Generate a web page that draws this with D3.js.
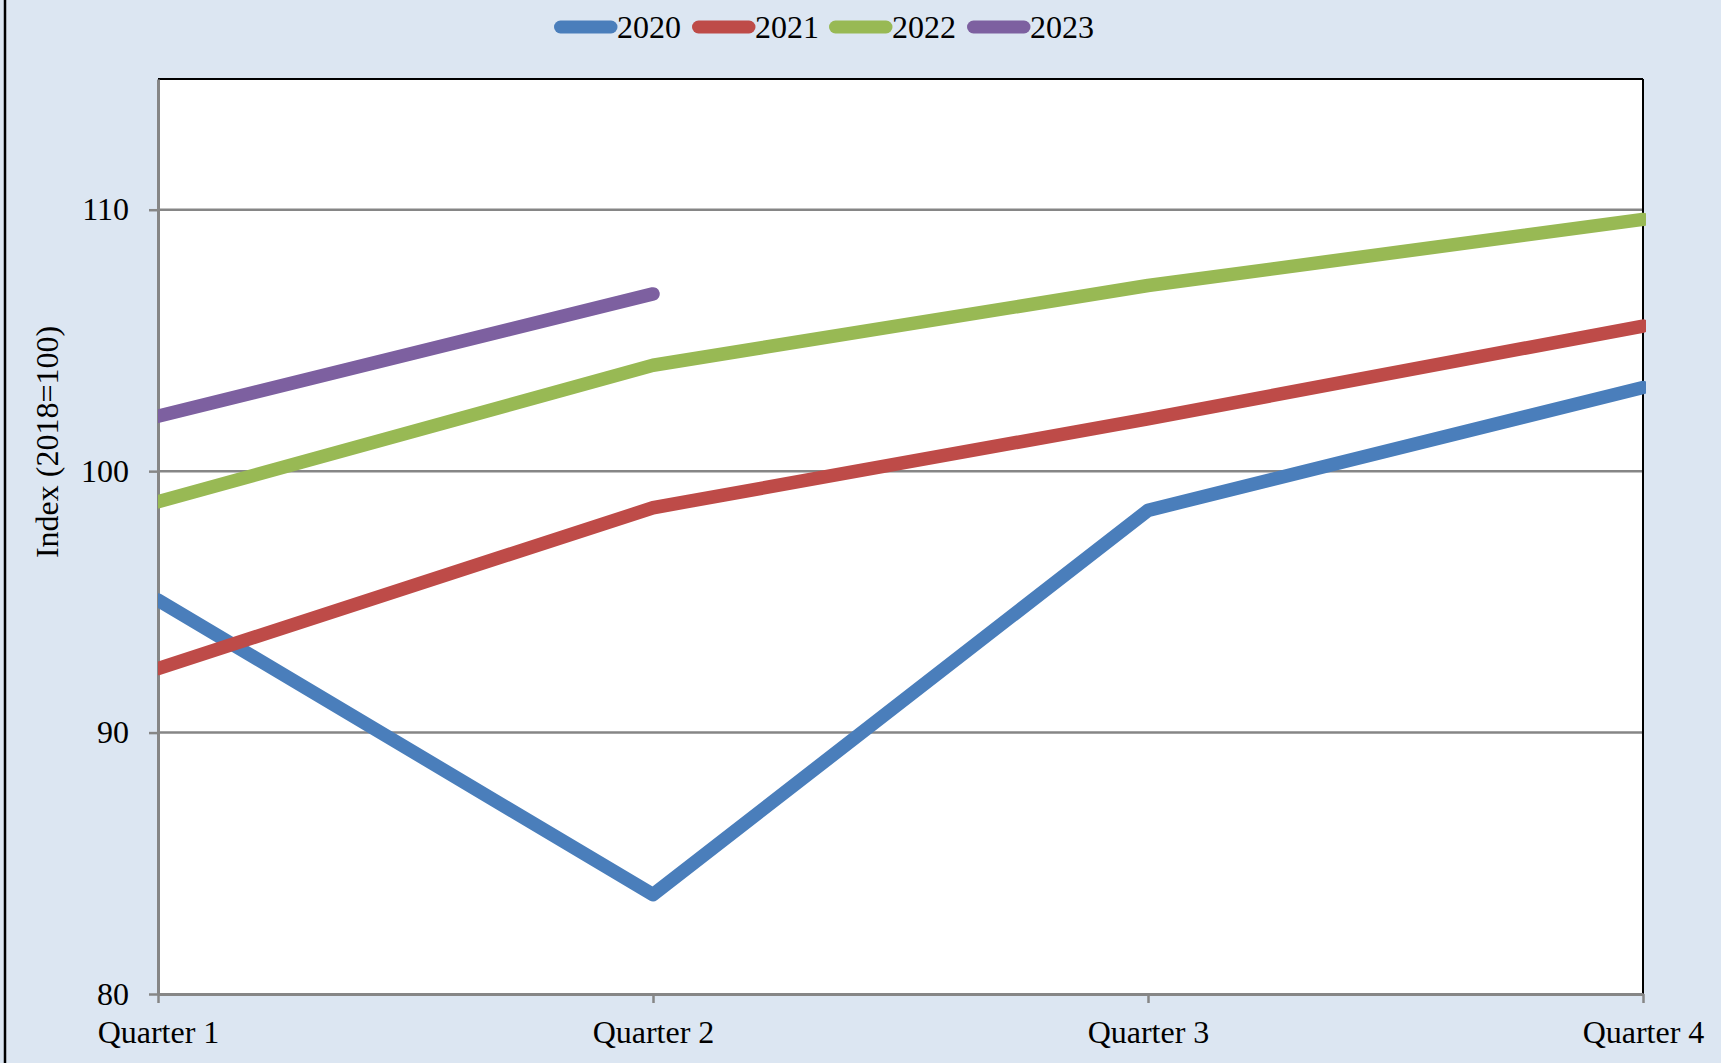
<!DOCTYPE html>
<html>
<head>
<meta charset="utf-8">
<script src="https://cdn.jsdelivr.net/npm/d3@7"></script>
<style>
html,body{margin:0;padding:0;background:#DCE6F2;}
svg{display:block;}
text{font-family:"Liberation Serif","Times New Roman",serif;fill:#000;}
</style>
</head>
<body>
<svg id="chart" width="1721" height="1063"></svg>
<script>
const categories = ["Quarter 1", "Quarter 2", "Quarter 3", "Quarter 4"];
const seriesNames = ["2020", "2021", "2022", "2023"];
const values2020 = [95.07, 83.8, 98.5, 103.2];
const values2021 = [92.45, 98.6, 102.0, 105.55];
const values2022 = [98.83, 104.05, 107.1, 109.63];
const values2023 = [102.1, 106.78];
const seriesColors = ["#4A7EBB", "#BE4B48", "#98B954", "#7D60A0"];
const yTicks = [80, 90, 100, 110];
const yDomain = [80, 115];
const yTitle = "Index (2018=100)";

const series = [values2020, values2021, values2022, values2023].map((v, i) => ({
  name: seriesNames[i], color: seriesColors[i],
  points: v.map((val, j) => ({cat: categories[j], val}))
}));

const svg = d3.select("#chart");
const W = 1721, H = 1063;
const m = {left: 158, right: 1643, top: 79, bottom: 994};
const FS = 32;

svg.append("rect").attr("width", W).attr("height", H).attr("fill", "#DCE6F2");
svg.append("line").attr("x1", 5).attr("x2", 5).attr("y1", 0).attr("y2", H)
  .attr("stroke", "#000").attr("stroke-width", 2.5);

const x = d3.scalePoint().domain(categories).range([m.left, m.right]);
const y = d3.scaleLinear().domain(yDomain).range([m.bottom, m.top]);

svg.append("rect").attr("x", m.left).attr("y", m.top)
  .attr("width", m.right - m.left).attr("height", m.bottom - m.top).attr("fill", "#fff");

svg.append("g").selectAll("line").data(yTicks.filter(t => t > yDomain[0])).join("line")
  .attr("x1", m.left).attr("x2", m.right)
  .attr("y1", d => y(d)).attr("y2", d => y(d))
  .attr("stroke", "#868686").attr("stroke-width", 2.5);

svg.append("line").attr("x1", m.left).attr("x2", m.right).attr("y1", m.top).attr("y2", m.top)
  .attr("stroke", "#000").attr("stroke-width", 2);
svg.append("line").attr("x1", m.right).attr("x2", m.right).attr("y1", m.top).attr("y2", m.bottom)
  .attr("stroke", "#000").attr("stroke-width", 2);

const yAxis = svg.append("g").attr("transform", `translate(${m.left},0)`)
  .call(d3.axisLeft(y).tickValues(yTicks).tickSize(9).tickPadding(20).tickSizeOuter(0));
yAxis.select(".domain").attr("stroke", "#868686").attr("stroke-width", 3);
yAxis.selectAll(".tick line").attr("stroke", "#868686").attr("stroke-width", 2.5);
yAxis.selectAll(".tick text").attr("font-size", FS).attr("font-family", "Liberation Serif, Times New Roman, serif")
  .attr("fill", "#000");

const xAxis = svg.append("g").attr("transform", `translate(0,${m.bottom})`)
  .call(d3.axisBottom(x).tickSize(9).tickPadding(17).tickSizeOuter(0));
xAxis.select(".domain").attr("stroke", "#868686").attr("stroke-width", 3);
xAxis.selectAll(".tick line").attr("stroke", "#868686").attr("stroke-width", 2.5);
xAxis.selectAll(".tick text").attr("font-size", FS).attr("font-family", "Liberation Serif, Times New Roman, serif")
  .attr("fill", "#000");

svg.append("text").attr("transform", `translate(58,442) rotate(-90)`)
  .attr("text-anchor", "middle").attr("font-size", FS).text(yTitle);

svg.append("clipPath").attr("id", "clip").append("rect")
  .attr("x", m.left).attr("y", m.top - 20).attr("width", m.right - m.left + 3).attr("height", m.bottom - m.top + 40);

const line = d3.line().x(d => x(d.cat)).y(d => y(d.val));
svg.append("g").attr("clip-path", "url(#clip)").selectAll("path").data(series).join("path")
  .attr("d", d => line(d.points)).attr("fill", "none")
  .attr("stroke", d => d.color).attr("stroke-width", 13.5)
  .attr("stroke-linecap", "round").attr("stroke-linejoin", "round");

const legendStarts = [554, 692, 829, 967];
const lg = svg.append("g");
series.forEach((s, i) => {
  const g = lg.append("g").attr("transform", `translate(${legendStarts[i]},0)`);
  g.append("line").attr("x1", 6.5).attr("x2", 57).attr("y1", 27).attr("y2", 27)
    .attr("stroke", s.color).attr("stroke-width", 13).attr("stroke-linecap", "round");
  g.append("text").attr("x", 63).attr("y", 38).attr("font-size", FS).text(s.name);
});
</script>
</body>
</html>
